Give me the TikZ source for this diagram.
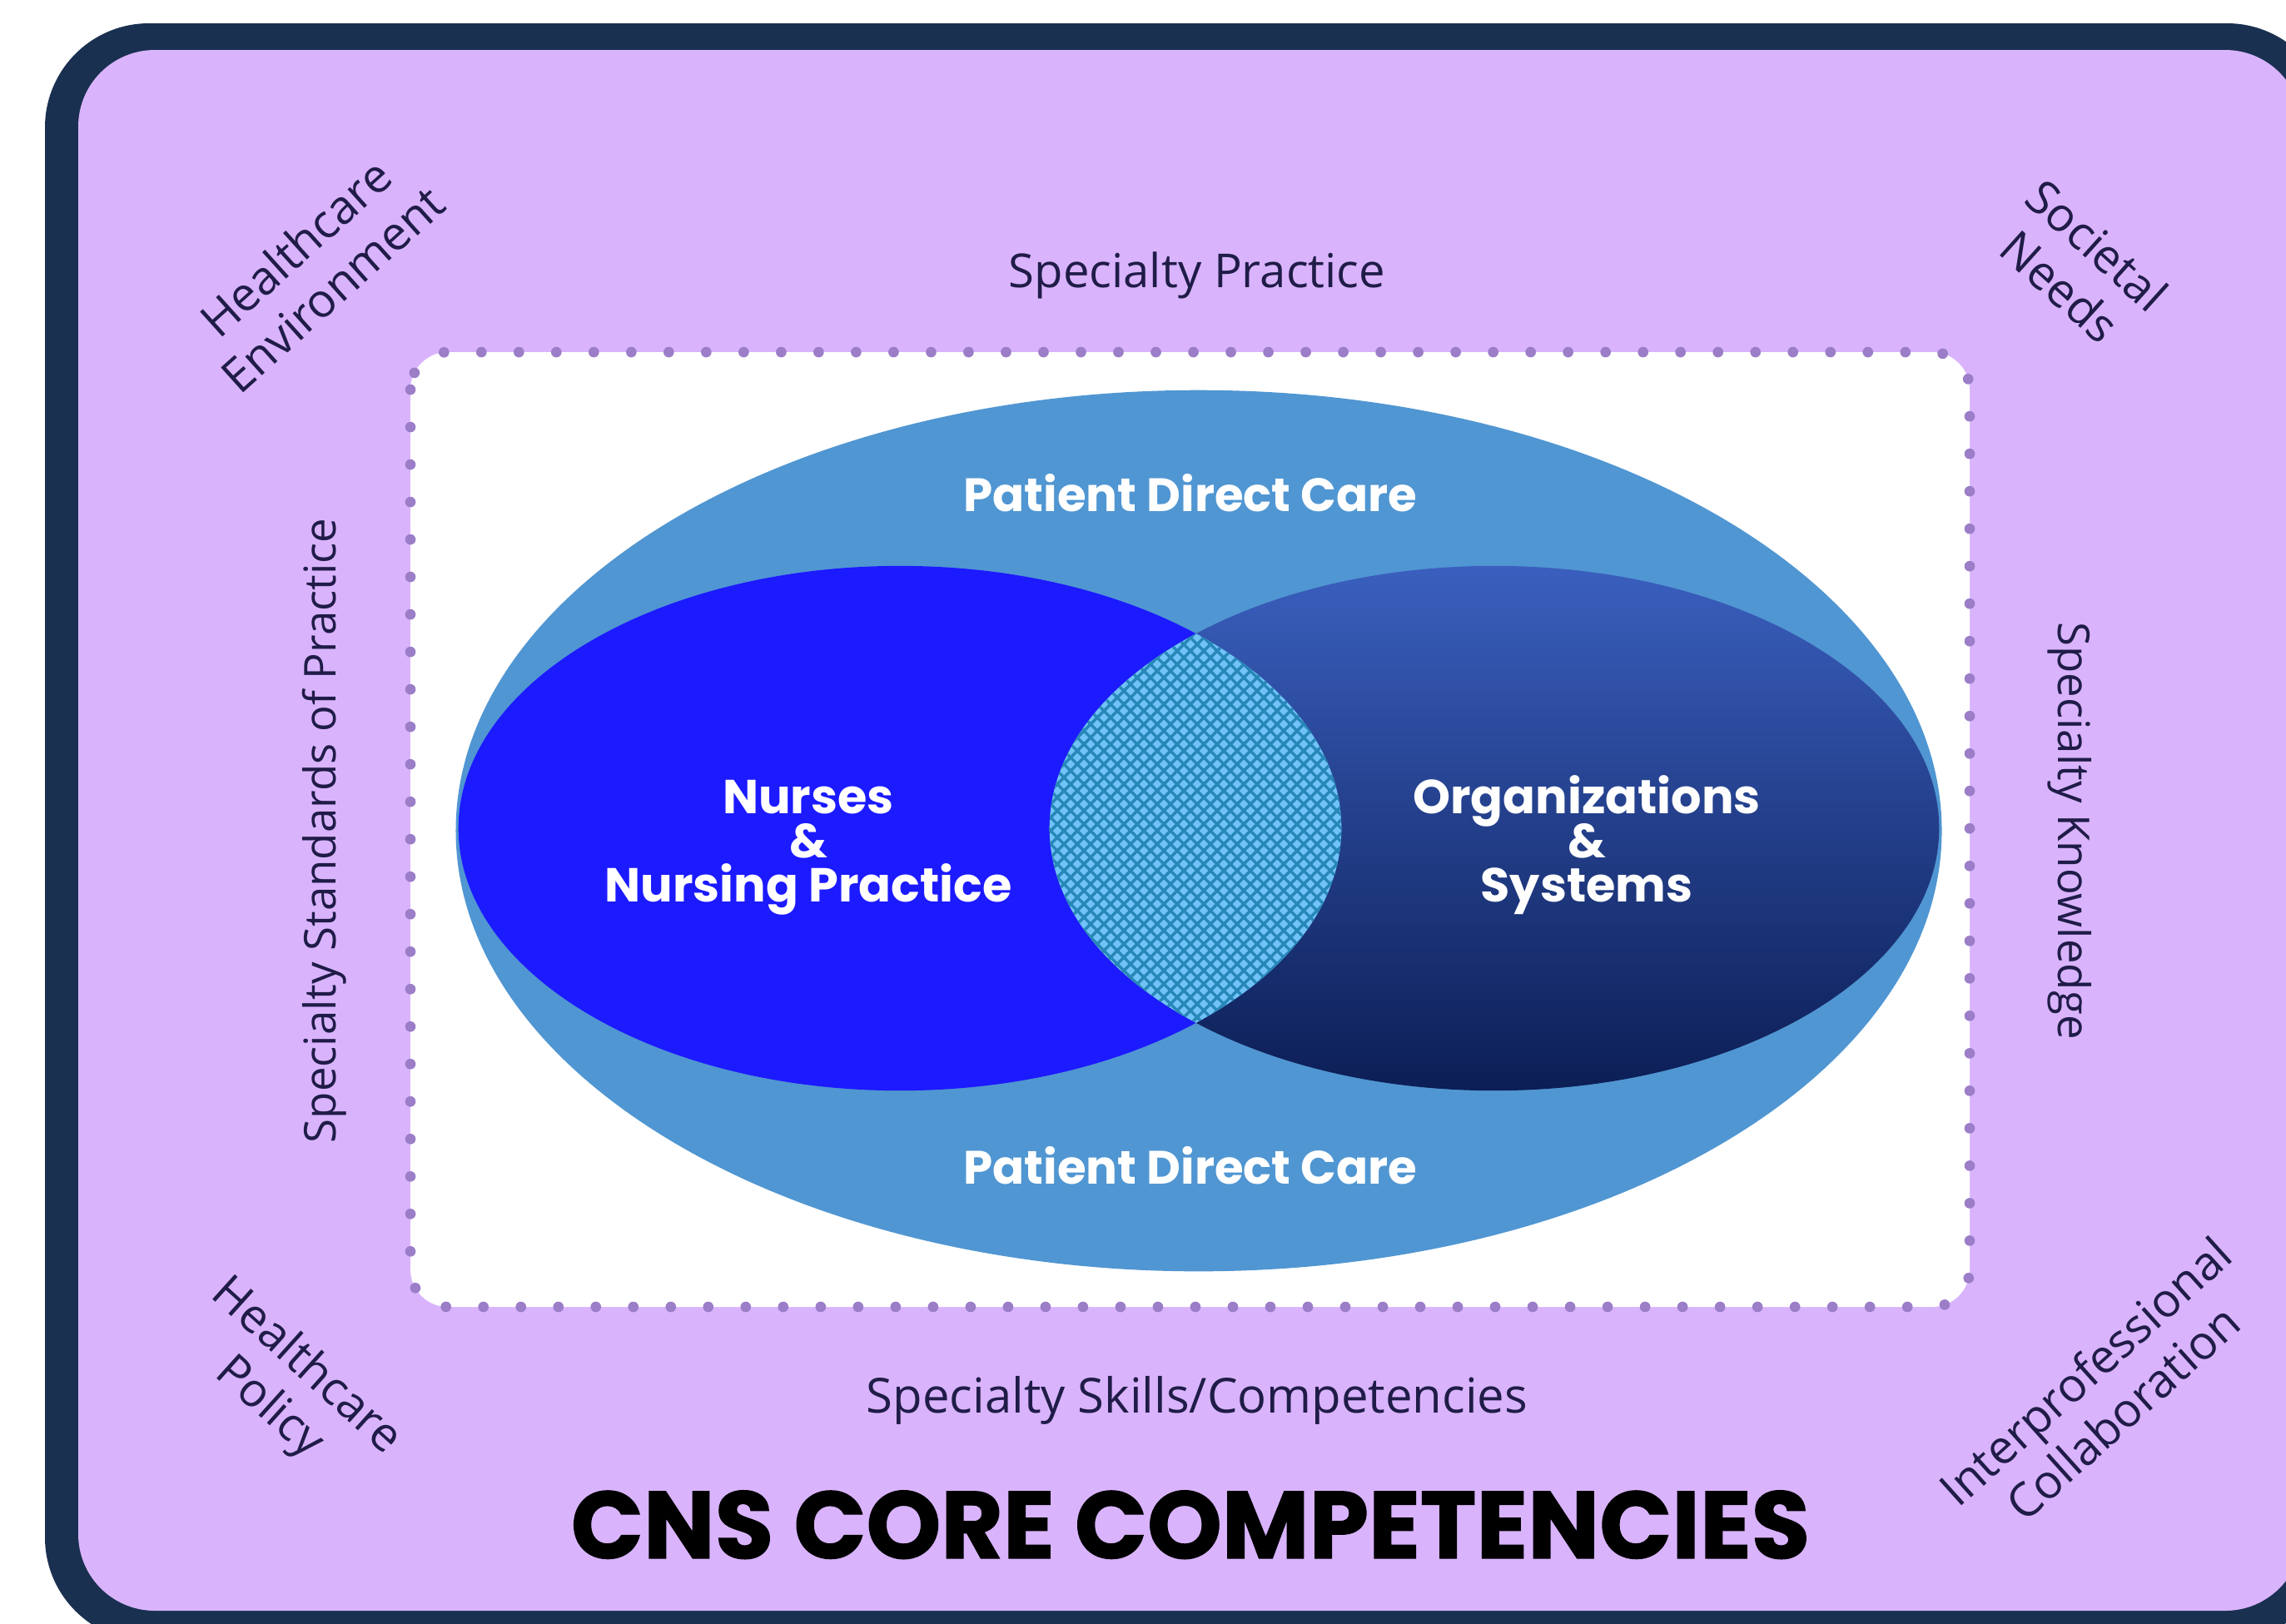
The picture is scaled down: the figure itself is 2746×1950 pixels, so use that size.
\documentclass[tikz,border=0pt]{standalone}
\usepackage{fontspec}
\setmainfont{Open Sans}
\newfontfamily\geo{Poppins}
\newfontfamily\geoheavy{Poppins}[BoldFeatures={FakeBold=1.2}]

\definecolor{framec}{RGB}{26,48,80}
\definecolor{lilac}{RGB}{217,180,253}
\definecolor{dotc}{RGB}{155,125,200}
\definecolor{skyc}{RGB}{80,150,210}
\definecolor{nursec}{RGB}{28,26,255}
\definecolor{orgtop}{RGB}{58,95,190}
\definecolor{orgbot}{RGB}{12,30,85}
\definecolor{lensc}{RGB}{112,194,247}
\definecolor{hatchc}{RGB}{40,135,185}
\definecolor{inkc}{RGB}{32,28,72}

\begin{document}
\begin{tikzpicture}[x=0.01cm,y=-0.01cm,
  lab/.style={text=inkc, font=\fontsize{16}{18}\selectfont, inner sep=0pt},
  corner/.style={text=inkc, align=center, inner sep=0pt, font=\fontsize{16}{19}\selectfont},
  wtxt/.style={text=white, anchor=base, inner sep=0pt, font=\geo\bfseries\fontsize{16.3}{18}\selectfont},
  hatch/.style={hatchc, line width=1.0pt}
]
\useasboundingbox (0,0) rectangle (2746,1950);
\clip (0,0) rectangle (2746,1950);
\fill[white] (0,0) rectangle (2746,1950);

% outer frame with lilac field
\fill[framec, rounded corners=1.25cm] (54,28) rectangle (2800,1972);
\fill[lilac, rounded corners=0.92cm] (94,60) rectangle (2765,1935);

% white inner field with dotted edge
\fill[white, rounded corners=0.45cm] (493,423) rectangle (2366,1570);
\draw[dotc, line width=3.6pt, line cap=round, dash pattern=on 0pt off 12.8pt,
      rounded corners=0.45cm] (493,423) rectangle (2366,1570);

% Venn ellipses
\fill[skyc] (1440,998) ellipse [x radius=8.92cm, y radius=5.29cm];
\fill[nursec] (1081,995) ellipse [x radius=5.30cm, y radius=3.15cm];
\shade[top color=orgtop, bottom color=orgbot] (1795,995) ellipse [x radius=5.34cm, y radius=3.15cm];

% cross-hatched overlap
\begin{scope}
  \clip (1081,995) ellipse [x radius=5.30cm, y radius=3.15cm];
  \clip (1795,995) ellipse [x radius=5.34cm, y radius=3.15cm];
  \fill[lensc] (1200,650) rectangle (1700,1350);
  \foreach \k in {-50,...,50} {
    \draw[hatch] ({1438+16*\k-400},598) -- ({1438+16*\k+400},1398);
    \draw[hatch] ({1438+16*\k+400},598) -- ({1438+16*\k-400},1398);
  }
\end{scope}

% labels in the lilac band
\node[lab, anchor=base] (spprac) at (1438,345) {Specialty Practice};
\node[lab, anchor=base, font=\fontsize{16.5}{18}\selectfont] (spskill) at (1438,1697) {Specialty Skills/Competencies};
\node[lab, rotate=90, font=\fontsize{15}{18}\selectfont] (spstd) at (390,998) {Specialty Standards of Practice};
\node[lab, rotate=-90, font=\fontsize{15}{18}\selectfont] (spknow) at (2486,998) {Specialty Knowledge};

% corner labels
\node[corner, rotate=42] (hcenv) at (377,322) {Healthcare\\Environment};
\node[corner, rotate=-42] (socn) at (2497,319) {Societal\\Needs};
\node[corner, rotate=-42] (hcpol) at (345,1667) {Healthcare\\Policy};
\node[corner, rotate=42] (ipc) at (2527,1672) {Interprofessional\\Collaboration};

% labels on the Venn diagram
\node[wtxt, font=\geo\bfseries\fontsize{16}{18}\selectfont] (pdctop) at (1430,614) {Patient Direct Care};
\node[wtxt, font=\geo\bfseries\fontsize{16}{18}\selectfont] (pdcbot) at (1430,1422) {Patient Direct Care};
\node[wtxt] (nursesa) at (971,977) {Nurses};
\node[wtxt] (nursesb) at (971,1030) {\&};
\node[wtxt] (nursesc) at (971,1083) {Nursing Practice};
\node[wtxt] (orgsa) at (1906,977) {Organizations};
\node[wtxt] (orgsb) at (1906,1030) {\&};
\node[wtxt] (orgsc) at (1906,1083) {Systems};

% title
\node[anchor=base, inner sep=0pt, font=\geoheavy\bfseries\fontsize{32.5}{34}\selectfont] (title) at (1430,1872) {CNS CORE COMPETENCIES};
\end{tikzpicture}
\end{document}
